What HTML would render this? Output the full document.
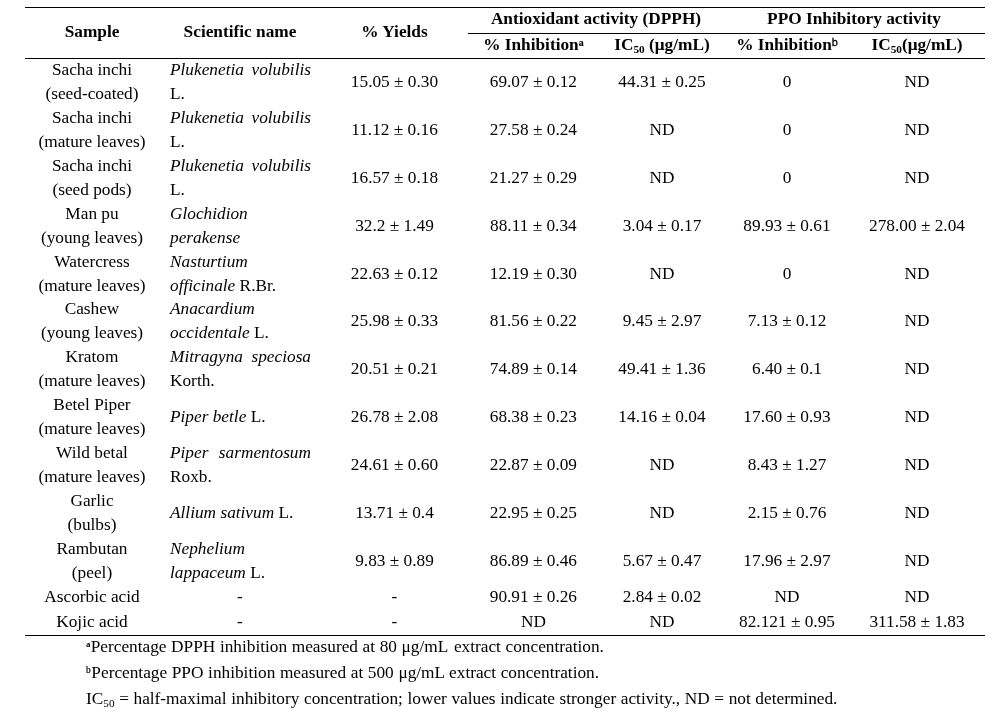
<!DOCTYPE html>
<html lang="en"><head><meta charset="utf-8"><title>Table</title>
<style>
html,body{margin:0;padding:0;background:#fff;}
body{width:1006px;height:718px;position:relative;overflow:hidden;font-family:"Liberation Serif","Times New Roman",serif;font-size:17.3px;color:#000;line-height:24px;}
.r{position:absolute;left:0;width:1006px;}
.c{position:absolute;width:200px;margin-left:-100px;text-align:center;white-space:nowrap;}
.s{position:absolute;left:170px;width:141px;text-align:left;white-space:nowrap;}
.j{display:block;text-align:justify;text-align-last:justify;white-space:normal;}
.h{font-weight:bold;}
.ln{position:absolute;background:#000;height:1px;}
.m{top:12px;}
sub{font-size:0.65em;vertical-align:baseline;position:relative;top:0.25em;line-height:0;}
sup{vertical-align:baseline;position:relative;line-height:0;}
sup.a{font-size:9.8px;top:-4.1px;font-weight:bold;-webkit-text-stroke:0.2px #000;}
sup.b{font-size:10.9px;top:-4.1px;font-weight:normal;-webkit-text-stroke:0.3px #000;font-family:"Liberation Sans","DejaVu Sans",sans-serif;}
.f{position:absolute;left:86px;white-space:nowrap;word-spacing:0.3px;}
sup.fa{font-size:9px;top:-4.9px;font-weight:bold;margin-right:0.2px;}
sup.fb{font-size:9.3px;top:-5.2px;margin-right:0.7px;-webkit-text-stroke:0.2px #000;}
</style></head><body>

<div class="ln" style="left:25px;width:960px;top:7px"></div>
<div class="ln" style="left:468px;width:517px;top:33px"></div>
<div class="ln" style="left:25px;width:960px;top:58px"></div>
<div class="ln" style="left:25px;width:960px;top:635px"></div>
<div class="r h" style="top:20px;height:24px">
 <div class="c" style="left:92px">Sample</div>
 <div class="c" style="left:240px">Scientific name</div>
 <div class="c" style="left:394.5px">% Yields</div>
</div>
<div class="r h" style="top:7px;height:24px">
 <div class="c" style="left:596px;width:300px;margin-left:-150px">Antioxidant activity (DPPH)</div>
 <div class="c" style="left:854px;width:300px;margin-left:-150px">PPO Inhibitory activity</div>
</div>
<div class="r h" style="top:33px;height:24px">
 <div class="c" style="left:533.4px">% Inhibition<sup class="a">a</sup></div>
 <div class="c" style="left:662px">IC<sub>50</sub> (μg/mL)</div>
 <div class="c" style="left:787px">% Inhibition<sup class="b">b</sup></div>
 <div class="c" style="left:917px">IC<sub>50</sub>(μg/mL)</div>
</div>
<div class="r" style="top:58px;height:48px">
 <div class="c" style="left:92px">Sacha inchi<br>(seed-coated)</div>
 <div class="s"><span class="j"><i>Plukenetia volubilis</i></span>L.</div>
 <div class="c m" style="left:394.5px">15.05 ± 0.30</div>
 <div class="c m" style="left:533.4px">69.07 ± 0.12</div>
 <div class="c m" style="left:662px">44.31 ± 0.25</div>
 <div class="c m" style="left:787px">0</div>
 <div class="c m" style="left:917px">ND</div>
</div>
<div class="r" style="top:106px;height:48px">
 <div class="c" style="left:92px">Sacha inchi<br>(mature leaves)</div>
 <div class="s"><span class="j"><i>Plukenetia volubilis</i></span>L.</div>
 <div class="c m" style="left:394.5px">11.12 ± 0.16</div>
 <div class="c m" style="left:533.4px">27.58 ± 0.24</div>
 <div class="c m" style="left:662px">ND</div>
 <div class="c m" style="left:787px">0</div>
 <div class="c m" style="left:917px">ND</div>
</div>
<div class="r" style="top:154px;height:48px">
 <div class="c" style="left:92px">Sacha inchi<br>(seed pods)</div>
 <div class="s"><span class="j"><i>Plukenetia volubilis</i></span>L.</div>
 <div class="c m" style="left:394.5px">16.57 ± 0.18</div>
 <div class="c m" style="left:533.4px">21.27 ± 0.29</div>
 <div class="c m" style="left:662px">ND</div>
 <div class="c m" style="left:787px">0</div>
 <div class="c m" style="left:917px">ND</div>
</div>
<div class="r" style="top:202px;height:48px">
 <div class="c" style="left:92px">Man pu<br>(young leaves)</div>
 <div class="s"><i>Glochidion</i><br><i>perakense</i></div>
 <div class="c m" style="left:394.5px">32.2 ± 1.49</div>
 <div class="c m" style="left:533.4px">88.11 ± 0.34</div>
 <div class="c m" style="left:662px">3.04 ± 0.17</div>
 <div class="c m" style="left:787px">89.93 ± 0.61</div>
 <div class="c m" style="left:917px">278.00 ± 2.04</div>
</div>
<div class="r" style="top:250px;height:48px">
 <div class="c" style="left:92px">Watercress<br>(mature leaves)</div>
 <div class="s"><i>Nasturtium</i><br><i>officinale</i> R.Br.</div>
 <div class="c m" style="left:394.5px">22.63 ± 0.12</div>
 <div class="c m" style="left:533.4px">12.19 ± 0.30</div>
 <div class="c m" style="left:662px">ND</div>
 <div class="c m" style="left:787px">0</div>
 <div class="c m" style="left:917px">ND</div>
</div>
<div class="r" style="top:297px;height:48px">
 <div class="c" style="left:92px">Cashew<br>(young leaves)</div>
 <div class="s"><i>Anacardium</i><br><i>occidentale</i> L.</div>
 <div class="c m" style="left:394.5px">25.98 ± 0.33</div>
 <div class="c m" style="left:533.4px">81.56 ± 0.22</div>
 <div class="c m" style="left:662px">9.45 ± 2.97</div>
 <div class="c m" style="left:787px">7.13 ± 0.12</div>
 <div class="c m" style="left:917px">ND</div>
</div>
<div class="r" style="top:345px;height:48px">
 <div class="c" style="left:92px">Kratom<br>(mature leaves)</div>
 <div class="s"><span class="j"><i>Mitragyna speciosa</i></span>Korth.</div>
 <div class="c m" style="left:394.5px">20.51 ± 0.21</div>
 <div class="c m" style="left:533.4px">74.89 ± 0.14</div>
 <div class="c m" style="left:662px">49.41 ± 1.36</div>
 <div class="c m" style="left:787px">6.40 ± 0.1</div>
 <div class="c m" style="left:917px">ND</div>
</div>
<div class="r" style="top:393px;height:48px">
 <div class="c" style="left:92px">Betel Piper<br>(mature leaves)</div>
 <div class="s m"><i>Piper betle</i> L.</div>
 <div class="c m" style="left:394.5px">26.78 ± 2.08</div>
 <div class="c m" style="left:533.4px">68.38 ± 0.23</div>
 <div class="c m" style="left:662px">14.16 ± 0.04</div>
 <div class="c m" style="left:787px">17.60 ± 0.93</div>
 <div class="c m" style="left:917px">ND</div>
</div>
<div class="r" style="top:441px;height:48px">
 <div class="c" style="left:92px">Wild betal<br>(mature leaves)</div>
 <div class="s"><span class="j"><i>Piper sarmentosum</i></span>Roxb.</div>
 <div class="c m" style="left:394.5px">24.61 ± 0.60</div>
 <div class="c m" style="left:533.4px">22.87 ± 0.09</div>
 <div class="c m" style="left:662px">ND</div>
 <div class="c m" style="left:787px">8.43 ± 1.27</div>
 <div class="c m" style="left:917px">ND</div>
</div>
<div class="r" style="top:489px;height:48px">
 <div class="c" style="left:92px">Garlic<br>(bulbs)</div>
 <div class="s m"><i>Allium sativum</i> L.</div>
 <div class="c m" style="left:394.5px">13.71 ± 0.4</div>
 <div class="c m" style="left:533.4px">22.95 ± 0.25</div>
 <div class="c m" style="left:662px">ND</div>
 <div class="c m" style="left:787px">2.15 ± 0.76</div>
 <div class="c m" style="left:917px">ND</div>
</div>
<div class="r" style="top:537px;height:48px">
 <div class="c" style="left:92px">Rambutan<br>(peel)</div>
 <div class="s"><i>Nephelium</i><br><i>lappaceum</i> L.</div>
 <div class="c m" style="left:394.5px">9.83 ± 0.89</div>
 <div class="c m" style="left:533.4px">86.89 ± 0.46</div>
 <div class="c m" style="left:662px">5.67 ± 0.47</div>
 <div class="c m" style="left:787px">17.96 ± 2.97</div>
 <div class="c m" style="left:917px">ND</div>
</div>
<div class="r" style="top:585px;height:24px">
 <div class="c" style="left:92px">Ascorbic acid</div>
 <div class="c" style="left:240px">-</div>
 <div class="c" style="left:394.5px">-</div>
 <div class="c" style="left:533.4px">90.91 ± 0.26</div>
 <div class="c" style="left:662px">2.84 ± 0.02</div>
 <div class="c" style="left:787px">ND</div>
 <div class="c" style="left:917px">ND</div>
</div>
<div class="r" style="top:610px;height:24px">
 <div class="c" style="left:92px">Kojic acid</div>
 <div class="c" style="left:240px">-</div>
 <div class="c" style="left:394.5px">-</div>
 <div class="c" style="left:533.4px">ND</div>
 <div class="c" style="left:662px">ND</div>
 <div class="c" style="left:787px">82.121 ± 0.95</div>
 <div class="c" style="left:917px">311.58 ± 1.83</div>
</div>
<div class="f" style="top:635px"><sup class="fa">a</sup>Percentage DPPH inhibition measured at 80 μg/mL<span style="margin-left:1px"> extract</span> concentration.</div>
<div class="f" style="top:661px"><sup class="fb">b</sup>Percentage PPO inhibition measured at 500 μg/mL extract concentration.</div>
<div class="f" style="top:687px">IC<sub>50</sub> = half-maximal inhibitory concentration; lower values indicate stronger activity., ND = not determined.</div>
</body></html>
